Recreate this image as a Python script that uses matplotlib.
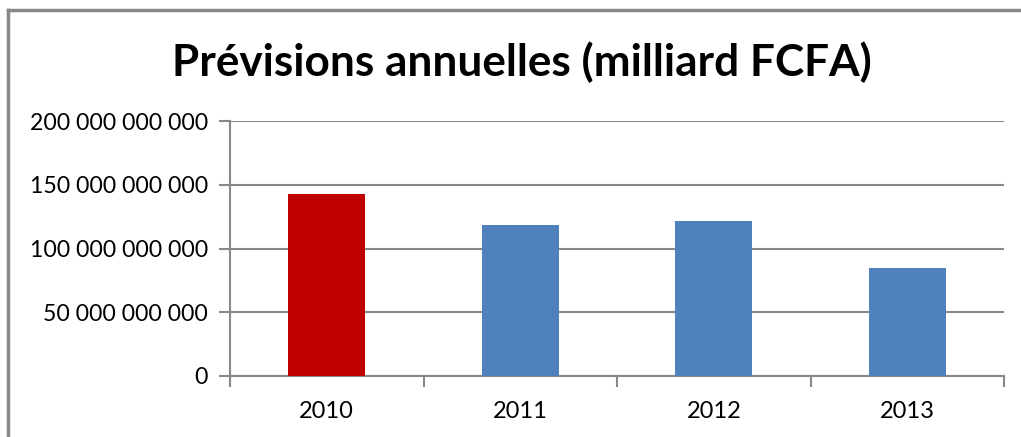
import matplotlib
matplotlib.use("Agg")
import matplotlib.pyplot as plt
from matplotlib.lines import Line2D
from matplotlib.ticker import FuncFormatter, MultipleLocator

# Data
years = ["2010", "2011", "2012", "2013"]
values = [142.7e9, 118.5e9, 121.7e9, 84.8e9]
bar_colors = ["#C00000", "#4F81BD", "#4F81BD", "#4F81BD"]
title = "Prévisions annuelles (milliard FCFA)"

GRAY = "#888888"

plt.rcParams["font.family"] = ["Lato", "DejaVu Sans"]

fig = plt.figure(figsize=(10.21, 4.37), dpi=100)
ax = fig.add_axes([0.2253, 0.1396, 0.9834 - 0.2253, 0.7231 - 0.1396])

x = list(range(len(years)))
ax.bar(x, values, width=0.4, color=bar_colors, zorder=3)

ax.set_xlim(-0.5, len(years) - 0.5)
ax.set_ylim(0, 200e9)
ax.yaxis.set_major_locator(MultipleLocator(50e9))
ax.yaxis.set_major_formatter(FuncFormatter(lambda v, p: f"{v:,.0f}".replace(",", " ")))
ax.grid(axis="y", color=GRAY, linewidth=1.5, zorder=0)

# category labels centred, ticks at the bin edges
ax.set_xticks(x)
ax.set_xticklabels(years)
ax.tick_params(axis="x", length=0, pad=18, labelsize=17)
ax.set_xticks([i - 0.5 for i in range(len(years) + 1)], minor=True)
ax.tick_params(axis="x", which="minor", length=8, width=1.5, color=GRAY)
ax.tick_params(axis="y", length=8, width=1.5, color=GRAY, pad=8, labelsize=16.6)

for side in ["top", "right"]:
    ax.spines[side].set_visible(False)
for side in ["left", "bottom"]:
    ax.spines[side].set_color(GRAY)
    ax.spines[side].set_linewidth(1.5)

fig.text(0.511, 0.858, title, ha="center", va="center", fontsize=31.8, fontweight="bold")

# outer chart frame (left and top edges visible)
fig.add_artist(Line2D([8 / 1021, 8 / 1021], [0, 1 - 10 / 437], color=GRAY, linewidth=2.5))
fig.add_artist(Line2D([8 / 1021, 1], [1 - 10 / 437, 1 - 10 / 437], color=GRAY, linewidth=2.5))

fig.savefig("out.png", dpi=100)
